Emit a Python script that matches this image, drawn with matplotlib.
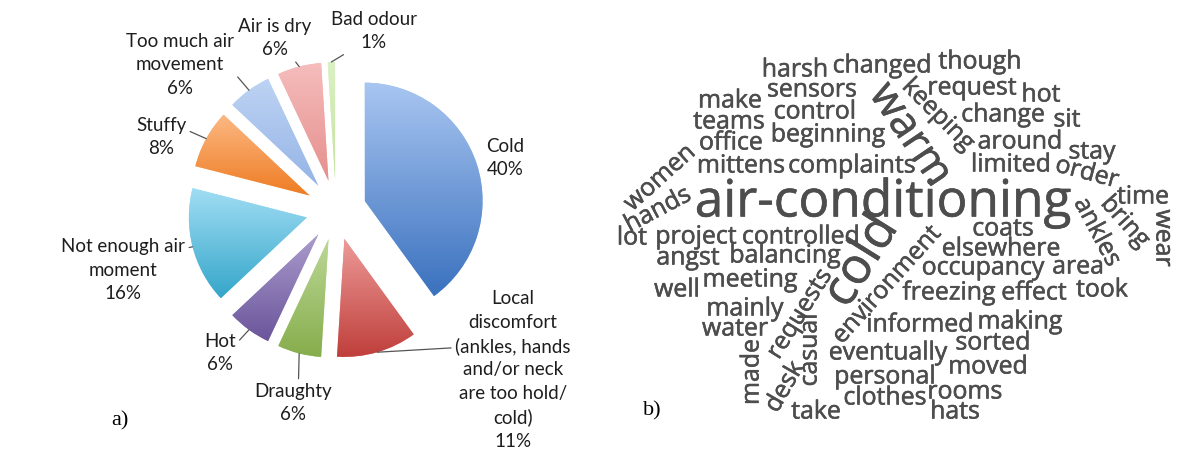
import numpy as np
import matplotlib.pyplot as plt
import matplotlib.patheffects as pe
from matplotlib.colors import LinearSegmentedColormap

# --- pie data (a) ---
labels = ['Cold', 'Local\ndiscomfort\n(ankles, hands\nand/or neck\nare too hold/\ncold)',
          'Draughty', 'Hot', 'Not enough air\nmoment', 'Stuffy',
          'Too much air\nmovement', 'Air is dry', 'Bad odour']
shares = [40, 11, 6, 6, 16, 8, 6, 6, 1]
tops = ['#a9c6f1', '#ec9a98', '#bcd896', '#ab9ccd', '#a2def4', '#fcb883', '#bdd3f3', '#f5bdbc', '#dcf1c4']
bottoms = ['#3a71be', '#bf3e3a', '#86ad4c', '#6a559b', '#35a6ca', '#ee7b22', '#95b4e6', '#e58f8d', '#c3e2a0']

# --- word cloud data (b) ---
words = ['harsh', 'changed', 'though', 'sensors', 'request', 'hot', 'make', 'control',
         'change', 'sit', 'teams', 'beginning', 'office', 'around', 'stay', 'mittens',
         'complaints', 'limited', 'order', 'time', 'women', 'hands', 'air-conditioning',
         'warm', 'keeping', 'lot', 'project', 'controlled', 'cold', 'coats', 'ankles',
         'bring', 'wear', 'angst', 'balancing', 'environment', 'elsewhere', 'occupancy',
         'area', 'meeting', 'well', 'freezing', 'effect', 'took', 'mainly', 'requests',
         'water', 'informed', 'making', 'casual', 'made', 'eventually', 'sorted',
         'personal', 'moved', 'desk', 'clothes', 'rooms', 'take', 'hats']
word_sizes = [17.9] * len(words)
word_sizes[words.index('air-conditioning')] = 37
word_sizes[words.index('warm')] = 31
word_sizes[words.index('cold')] = 36

# layout of the cloud: centre (px from top-left) and rotation
word_layout = [
    (795, 70, 0), (882, 66, 0), (980, 62, 0), (812, 90, 0), (972, 88, 0), (1041, 95, 0),
    (730, 101, 0), (815, 112, 0), (1003, 115, 0), (1067, 120, 0), (729, 122, 0),
    (828, 135, 0), (731, 143, 0), (1020, 142, 0), (1092, 152, 0), (741, 166, 0),
    (852, 166, 0), (1011, 165, 0), (1087, 173, -15), (1143, 197, 0), (660, 178, 42),
    (658, 210, 28), (883, 203, 0), (910, 135, -56), (938, 115, -45), (632, 238, 0),
    (696, 237, 0), (801, 237, 0), (862, 262, 58), (1003, 229, 0), (1097, 232, -62),
    (1125, 222, -48), (1163, 238, -90), (688, 258, 0), (785, 256, 0), (887, 285, 48),
    (1001, 249, 0), (983, 268, 0), (1078, 267, 0), (750, 280, 0), (677, 290, 0),
    (949, 293, 0), (1034, 293, 0), (1102, 290, 0), (745, 309, 0), (800, 314, 58),
    (735, 329, 0), (920, 325, 0), (1020, 322, 0), (810, 350, 90), (752, 372, 90),
    (888, 353, 0), (993, 343, 0), (885, 377, 0), (988, 367, 0), (785, 387, 60),
    (885, 398, 0), (965, 392, 0), (816, 412, 0), (955, 412, 0)]

W, H = 1185, 455
fig = plt.figure(figsize=(W / 100, H / 100), dpi=100)
fig.patch.set_facecolor('white')


def fx(x):
    return x / W


def fy(y):
    return 1 - y / H


# pie axes, centre at (336, 210) px, radius 118 px
R_PX, CX, CY, HALF = 118, 336, 210, 150
ax = fig.add_axes([fx(CX - HALF), fy(CY + HALF), 2 * HALF / W, 2 * HALF / H])
wedges, _ = ax.pie(shares, explode=[0.255] * len(shares), startangle=90,
                   counterclock=False, colors=tops, wedgeprops=dict(linewidth=0))

# vertical gradient inside each wedge
grad = np.linspace(0, 1, 256).reshape(-1, 1)
for w, c0, c1 in zip(wedges, tops, bottoms):
    v = w.get_path().vertices
    x0, y0 = v.min(axis=0)
    x1, y1 = v.max(axis=0)
    cmap = LinearSegmentedColormap.from_list('g', [c1, c0])
    im = ax.imshow(grad, cmap=cmap, extent=(x0, x1, y0, y1), origin='lower',
                   aspect='auto', zorder=w.get_zorder() + 0.1)
    im.set_clip_path(w)

lim = HALF / R_PX
ax.set_xlim(-lim, lim)
ax.set_ylim(-lim, lim)
ax.set_axis_off()

# label placement (px) and where the leader leaves the text box
label_xy = [(505, 158), (513, 370), (293, 403), (220, 353), (123, 270),
            (161, 137), (180, 65), (275, 38), (374, 31)]
label_rel = [None, (0, 0.64), (0.57, 1), (1, 0.72), (1, 0.84),
             (1, 0.68), (0.95, 0.48), (0.67, 0.17), (0.33, 0.15)]

for w, lab, s, (lx, ly), rel in zip(wedges, labels, shares, label_xy, label_rel):
    mid = np.deg2rad((w.theta1 + w.theta2) / 2)
    px = w.center[0] + w.r * np.cos(mid)
    py = w.center[1] + w.r * np.sin(mid)
    kw = dict(xy=(px, py), xycoords='data', xytext=(lx, H - ly),
              textcoords='figure pixels', ha='center', va='center',
              fontsize=13.5, family='Lato', color='#1e1e1e', linespacing=1.45,
              annotation_clip=False)
    if rel is not None:
        kw['arrowprops'] = dict(arrowstyle='-', color='#555555', lw=0.9,
                                relpos=rel, shrinkA=1, shrinkB=0)
    ax.annotate(f'{lab}\n{s}%', **kw)

fig.text(fx(120), fy(421), 'a)', fontsize=16, family='Liberation Serif',
         ha='center', va='center')

# word cloud
ink = '#4d4d4d'
for word, size, (x, y, rot) in zip(words, word_sizes, word_layout):
    fig.text(fx(x), fy(y), word, fontsize=size, rotation=rot, rotation_mode='anchor',
             ha='center', va='center', family='Open Sans', color=ink,
             path_effects=[pe.withStroke(linewidth=0.4, foreground=ink)])

fig.text(fx(652), fy(411), 'b)', fontsize=16, family='Liberation Serif',
         ha='center', va='center')

fig.savefig('out.png', dpi=100, facecolor='white')
